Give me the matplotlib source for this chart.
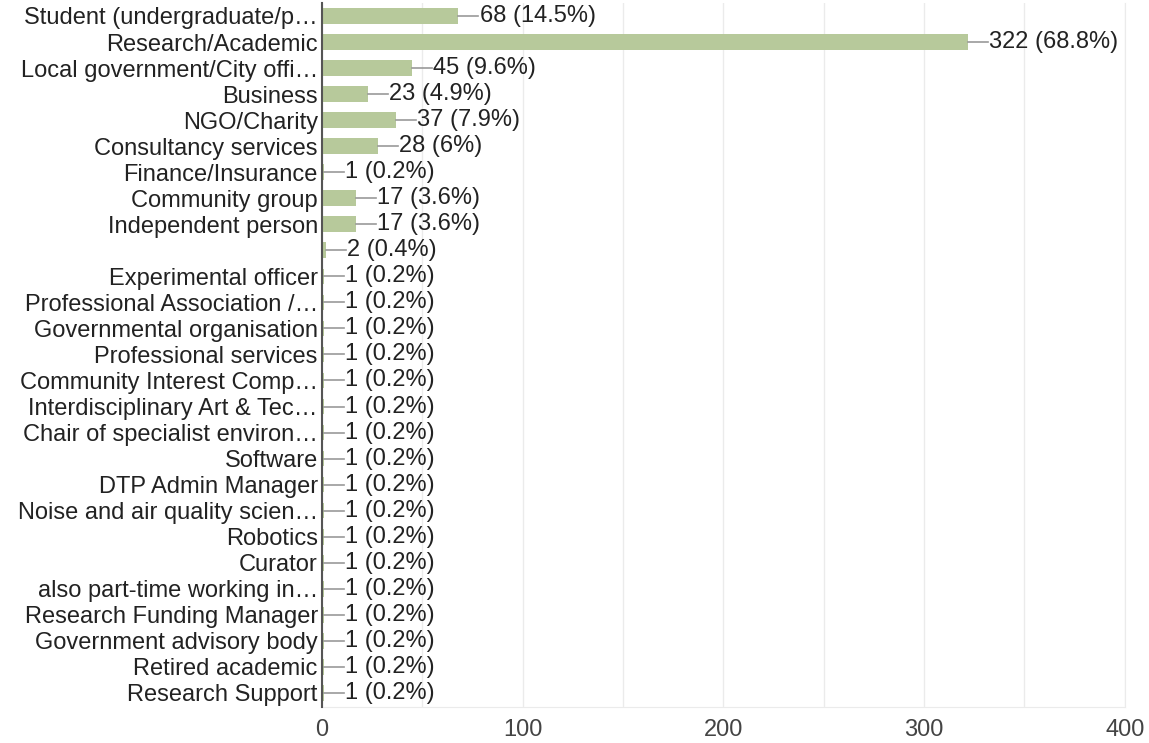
import numpy as np
import matplotlib.pyplot as plt

plt.rcParams['font.family'] = ['Liberation Sans', 'DejaVu Sans']

labels = [
    "Student (undergraduate/p\u2026", "Research/Academic", "Local government/City offi\u2026",
    "Business", "NGO/Charity", "Consultancy services", "Finance/Insurance",
    "Community group", "Independent person", "", "Experimental officer",
    "Professional Association /\u2026", "Governmental organisation", "Professional services",
    "Community Interest Comp\u2026", "Interdisciplinary Art & Tec\u2026",
    "Chair of specialist environ\u2026", "Software", "DTP Admin Manager",
    "Noise and air quality scien\u2026", "Robotics", "Curator",
    "also part-time working in\u2026", "Research Funding Manager",
    "Government advisory body", "Retired academic", "Research Support",
]
counts = [68, 322, 45, 23, 37, 28, 1, 17, 17, 2, 1, 1, 1, 1, 1, 1, 1, 1, 1, 1, 1, 1, 1, 1, 1, 1, 1]
pcts = ["14.5", "68.8", "9.6", "4.9", "7.9", "6", "0.2", "3.6", "3.6", "0.4",
        "0.2", "0.2", "0.2", "0.2", "0.2", "0.2", "0.2", "0.2", "0.2", "0.2",
        "0.2", "0.2", "0.2", "0.2", "0.2", "0.2", "0.2"]

fig = plt.figure(figsize=(11.49, 7.43), dpi=100)
ax = fig.add_axes([0.2802, 0.0485, 0.6987, 0.9475])

y = np.arange(len(labels))
ax.barh(y, counts, height=0.6, color='#b7c99b', zorder=2)
for yi, c, p in zip(y, counts, pcts):
    ax.plot([c, c + 10], [yi, yi], color='#999999', lw=1.2, zorder=3)
    ax.text(c + 10.5, yi, f"{c} ({p}%)", va='center', ha='left',
            fontsize=17, color='#222222')

ax.set_xlim(0, 400)
ax.set_ylim(len(labels) - 0.46, -0.5)
ax.set_yticks(y)
ax.set_yticklabels(labels, fontsize=17, color='#222222')
ax.set_xticks([0, 100, 200, 300, 400])
ax.set_xticklabels(['0', '100', '200', '300', '400'], fontsize=17, color='#444444')
ax.set_xticks(np.arange(50, 400, 100), minor=True)
ax.tick_params(axis='both', which='both', length=0)
ax.tick_params(axis='x', pad=9)
ax.tick_params(axis='y', pad=3)
ax.grid(axis='x', which='both', color='#ebebeb', lw=1, zorder=0)

ax.spines['top'].set_visible(False)
ax.spines['right'].set_color('#ebebeb')
ax.spines['bottom'].set_color('#ebebeb')
ax.spines['left'].set_color('#555555')
ax.spines['left'].set_linewidth(1.5)
ax.spines['left'].set_zorder(4)

fig.savefig('out.png', dpi=100)
